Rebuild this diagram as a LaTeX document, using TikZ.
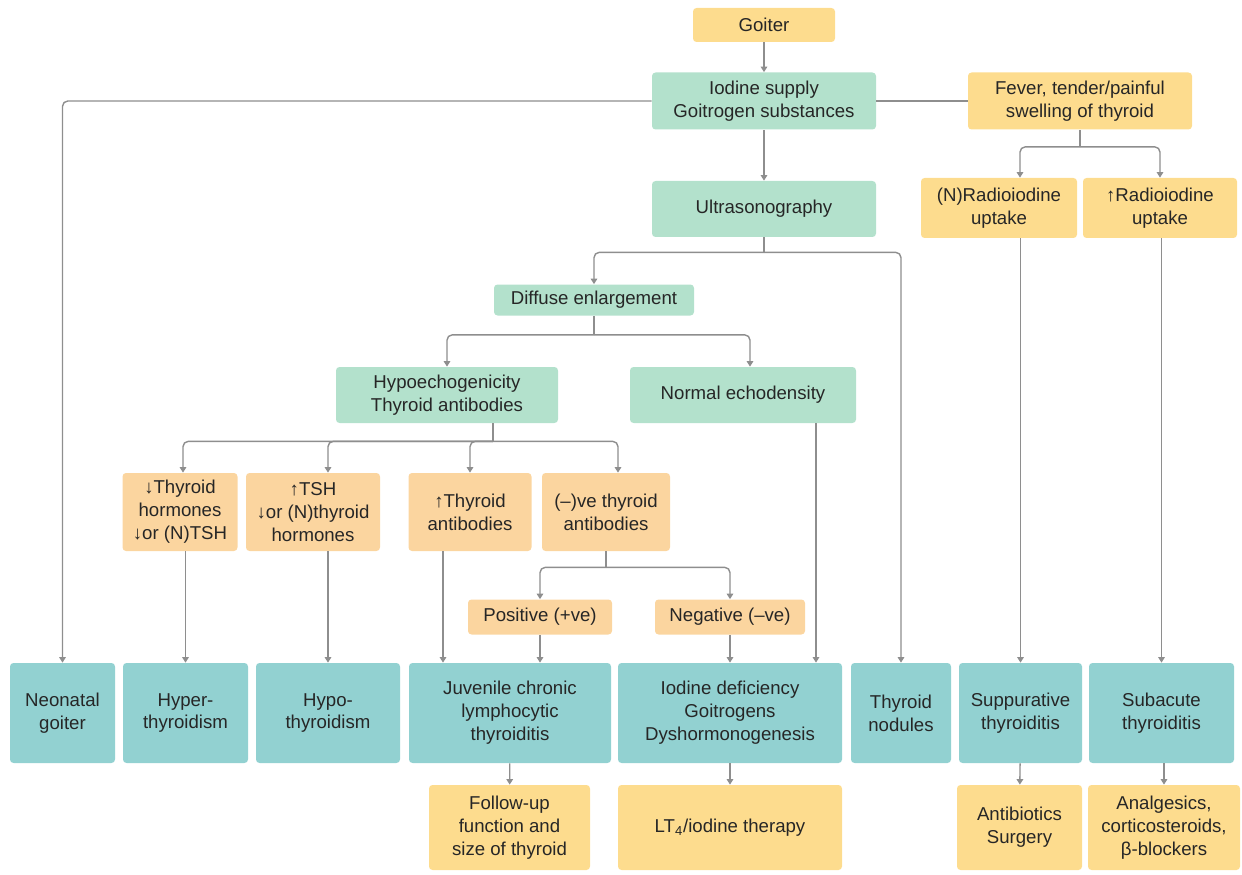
\documentclass[tikz,border=0pt]{standalone}
\usepackage{fontspec}
\setmainfont{Liberation Sans}
\usetikzlibrary{arrows.meta,positioning}
\definecolor{goldbox}{HTML}{FDDC8E}
\definecolor{peachbox}{HTML}{FBD59F}
\definecolor{mintbox}{HTML}{B3E1CC}
\definecolor{tealbox}{HTML}{92D1D1}
\definecolor{linegray}{HTML}{8E8E8E}

\begin{document}
\begin{tikzpicture}[x=0.02cm, y=-0.02cm, font=\fontsize{10.6}{13}\selectfont,
  box/.style={rounded corners=2pt, align=center, inner sep=2pt, text=black!85},
  gold/.style={box, fill=goldbox},
  peach/.style={box, fill=peachbox},
  mint/.style={box, fill=mintbox},
  teal/.style={box, fill=tealbox},
  sz/.style 2 args={minimum width=#1*0.02cm, minimum height=#2*0.02cm},
  link/.style={draw=linegray, line width=0.8pt, rounded corners=3pt},
  arr/.style={link, -{Triangle[length=1.1mm, width=1.3mm]}}]
  \useasboundingbox (0,0) rectangle (1242,875);

  % top part
  \node[gold, sz={142}{34}] (goiter) at (764,25) {Goiter};
  \node[mint, sz={224}{57}] (iod) at (764,101) {Iodine supply\\Goitrogen substances};
  \node[gold, sz={224}{57}] (fever) at (1080,101) {Fever, tender/painful\\swelling of thyroid};
  \node[mint, sz={224}{56}] (us) at (764,209) {Ultrasonography};
  \node[gold, sz={156}{60}] (nrad) at (999,208) {(N)Radioiodine\\uptake};
  \node[gold, sz={154}{60}] (urad) at (1160,208) {↑Radioiodine\\uptake};
  \node[mint, sz={200}{31}] (de) at (594,300) {Diffuse enlargement};
  \node[mint, sz={222}{56}] (hypo) at (447,395) {Hypoechogenicity\\Thyroid antibodies};
  \node[mint, sz={226}{56}] (norm) at (743,395) {Normal echodensity};

  % lab findings
  \node[peach, sz={115}{78}] (th) at (180,512) {↓Thyroid\\hormones\\↓or (N)TSH};
  \node[peach, sz={134}{78}] (tsh) at (313,512) {↑TSH\\↓or (N)thyroid\\hormones};
  \node[peach, sz={123}{78}] (tab) at (470,512) {↑Thyroid\\antibodies};
  \node[peach, sz={128}{78}] (neg) at (606,512) {(–)ve thyroid\\antibodies};
  \node[peach, sz={144}{35}] (pos) at (540,617) {Positive (+ve)};
  \node[peach, sz={150}{35}] (negv) at (730,617) {Negative (–ve)};

  % diagnoses
  \node[teal, sz={105}{100}] (neo) at (62.5,713) {Neonatal\\goiter};
  \node[teal, sz={125}{100}] (hyper) at (185.5,713) {Hyper-\\thyroidism};
  \node[teal, sz={144}{100}] (hypoth) at (328,713) {Hypo-\\thyroidism};
  \node[teal, sz={202}{100}] (juv) at (510,713) {Juvenile chronic\\lymphocytic\\thyroiditis};
  \node[teal, sz={224}{100}] (iodd) at (730,713) {Iodine deficiency\\Goitrogens\\Dyshormonogenesis};
  \node[teal, sz={100}{100}] (nod) at (901,713) {Thyroid\\nodules};
  \node[teal, sz={123}{100}] (supp) at (1020.5,713) {Suppurative\\thyroiditis};
  \node[teal, sz={145}{100}] (suba) at (1161.5,713) {Subacute\\thyroiditis};

  % treatment
  \node[gold, sz={161}{85}] (fu) at (509.5,827.5) {Follow-up\\function and\\size of thyroid};
  \node[gold, sz={224}{85}] (lt4) at (730,827.5) {LT\textsubscript{4}/iodine therapy};
  \node[gold, sz={125}{85}] (anti) at (1019.5,827.5) {Antibiotics\\Surgery};
  \node[gold, sz={152}{85}] (anal) at (1164,827.5) {Analgesics,\\corticosteroids,\\β-blockers};

  % connectors
  \draw[arr] (goiter) -- (iod);
  \draw[arr] (iod) -- (us);
  \draw[arr] (iod.west) -| (neo.north);
  \draw[link] (iod) -- (fever);
  \draw[link] (fever.south) -- ++(0,17) coordinate (fj);
  \draw[arr] (fj) -| ([xshift=0.42cm]nrad.north);
  \draw[arr] (fj) -| (urad.north);
  \draw[arr] (nrad.south -| supp.north) -- (supp.north);
  \draw[arr] (urad.south -| suba.north) -- (suba.north);

  \draw[link] (us.south) -- ++(0,15) coordinate (uj);
  \draw[arr] (uj) -| (de.north);
  \draw[arr] (uj) -| (nod.north);
  \draw[link] (de.south) -- ++(0,19) coordinate (dj);
  \draw[arr] (dj) -| (hypo.north);
  \draw[arr] (dj) -| ([xshift=0.14cm]norm.north);

  \draw[link] ([xshift=0.92cm]hypo.south) -- ++(0,18) coordinate (hj);
  \draw[arr] (hj) -| ([xshift=0.06cm]th.north);
  \draw[arr] (hj) -| ([xshift=0.3cm]tsh.north);
  \draw[arr] (hj) -| (tab.north);
  \draw[arr] (hj) -| ([xshift=0.24cm]neg.north);

  \draw[arr] (th.south -| hyper.north) -- (hyper.north);
  \draw[arr] (tsh.south -| hypoth.north) -- (hypoth.north);
  \draw[arr] ([xshift=-0.54cm]tab.south) -- ([xshift=-0.54cm]tab.south |- juv.north);
  \draw[link] (neg.south) -- ++(0,16) coordinate (nj);
  \draw[arr] (nj) -| (pos.north);
  \draw[arr] (nj) -| (negv.north);
  \draw[arr] (pos) -- (pos |- juv.north);
  \draw[arr] (negv) -- (negv |- iodd.north);
  \draw[arr] ([xshift=1.46cm]norm.south) -- ([xshift=1.46cm]norm.south |- iodd.north);

  \draw[arr] (juv) -- (fu);
  \draw[arr] (iodd) -- (lt4);
  \draw[arr] (supp) -- (anti);
  \draw[arr] (suba.south -| anal.north) -- (anal.north);
\end{tikzpicture}
\end{document}
